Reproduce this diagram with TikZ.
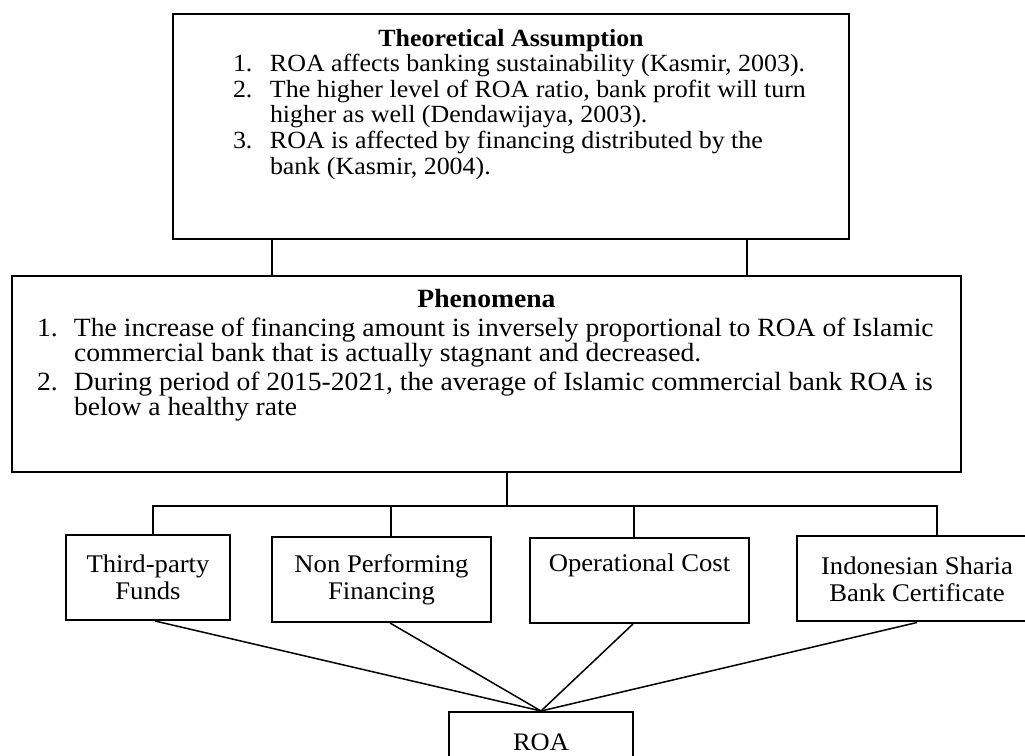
\documentclass[tikz,border=0pt]{standalone}
\usepackage{fontspec}
\setmainfont[FakeStretch=1.05]{Liberation Serif}
\usetikzlibrary{positioning}

% one numbered line of a list inside a box
\newcommand{\listline}[3]{\par\noindent\hspace*{#1}\makebox[37pt][l]{#2}#3}
\newcommand{\contline}[2]{\par\noindent\hspace*{#1}\hspace*{37pt}#2}

\begin{document}
\begin{tikzpicture}[x=1pt,y=1pt,
    box/.style={draw,line width=2pt,inner sep=0pt},
    cat/.style={box,minimum height=85pt,align=center,
                font=\fontsize{25.4}{27}\selectfont},
    link/.style={line width=1.2pt},
    feed/.style={line width=1.5pt}]

    \useasboundingbox (0,0) rectangle (1025,755);

    \node[box] (theory) at (511,628.5) {%
        \begin{minipage}[c][225pt][t]{676pt}
        \fontsize{24.7}{25.6}\selectfont
        \vspace*{15pt}
        {\centering\bfseries Theoretical Assumption\par}
        \listline{60pt}{1.}{ROA affects banking sustainability (Kasmir, 2003).}
        \listline{60pt}{2.}{The higher level of ROA ratio, bank profit will turn}
        \contline{60pt}{higher as well (Dendawijaya, 2003).}
        \listline{60pt}{3.}{ROA is affected by financing distributed by the}
        \contline{60pt}{bank (Kasmir, 2004).}
        \end{minipage}};

    \node[box] (phen) at (486.5,381) {%
        \begin{minipage}[c][196pt][t]{949pt}
        \fontsize{26.3}{25}\selectfont
        \vspace*{13pt}
        {\centering\bfseries Phenomena\par}
        \vspace{4pt}
        \listline{25pt}{1.}{The increase of financing amount is inversely proportional to ROA of Islamic}
        \contline{25pt}{commercial bank that is actually stagnant and decreased.}
        \vspace{4pt}
        \listline{25pt}{2.}{During period of 2015-2021, the average of Islamic commercial bank ROA is}
        \contline{25pt}{below a healthy rate}
        \end{minipage}};

    \node[cat,minimum width=164pt] (fund) at (148,177.5) {Third-party\\Funds};
    \node[cat,minimum width=219pt] (npf) at (381.5,175.5) {Non Performing\\Financing};
    \node[cat,minimum width=219pt] (opc) at (639.5,174.5) {Operational Cost\\\strut};
    \node[cat,minimum width=240pt] (isb) at (917,176) {Indonesian Sharia\\Bank Certificate};

    \node[box,minimum width=184pt,minimum height=60pt,
          font=\fontsize{25.2}{27}\selectfont] (roa) at (541,13) {ROA};

    % theory to phenomena
    \draw[link] (theory.south) ++(-239,0) coordinate (t1) -- (t1 |- phen.north);
    \draw[link] (theory.south) ++(236,0) coordinate (t2) -- (t2 |- phen.north);

    % phenomena down to the four variables
    \coordinate (bus) at (507,249);
    \draw[link] (phen.south -| bus) -- (bus);
    \draw[link] (fund.north) ++(5,0) |- (bus) -| ([xshift=20pt]isb.north);
    \draw[link] (npf.north) ++(9.5,0) coordinate (n2) -- (n2 |- bus);
    \draw[link] (opc.north) ++(-5.5,0) coordinate (n3) -- (n3 |- bus);

    % variables into ROA
    \draw[feed] ([xshift=7pt]fund.south) -- (roa.north);
    \draw[feed] ([xshift=8.5pt]npf.south) -- (roa.north);
    \draw[feed] ([xshift=-6.5pt]opc.south) -- (roa.north);
    \draw[feed] (isb.south) -- (roa.north);

\end{tikzpicture}
\end{document}
